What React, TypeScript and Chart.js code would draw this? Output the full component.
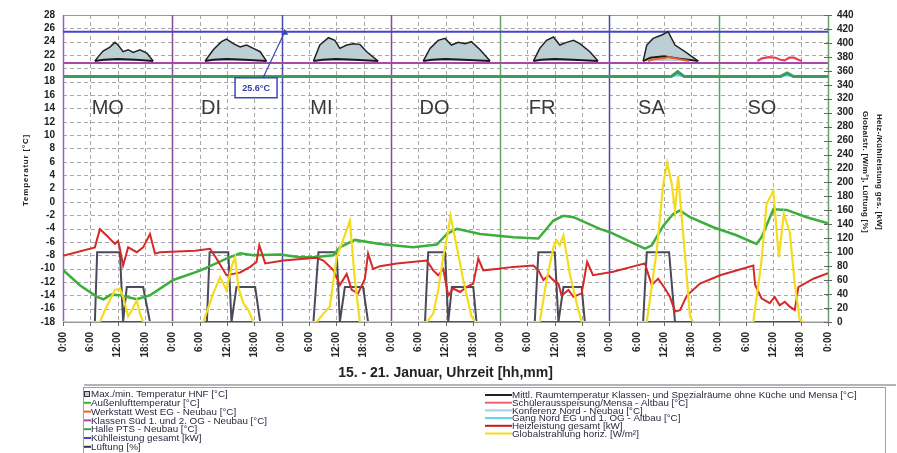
import React, { useEffect, useRef } from "react";
import { Chart, registerables } from "chart.js";

Chart.register(...registerables);

const FONT = "'Liberation Sans', Arial, sans-serif";

// ---------- labels ----------
const dayNames = ["MO", "DI", "MI", "DO", "FR", "SA", "SO"];
const hourLabels = ["0:00", "6:00", "12:00", "18:00"];
const xTitle = "15. - 21. Januar, Uhrzeit [hh,mm]";
const yLeftTitle = "Temperatur [°C]";
const yRightTitles = ["Heiz-/Kühlleistung ges. [kW]", "Globalstr. [W/m²], Lüftung [%]"];
const calloutText = "25.6°C";

const legendLeftLabels = [
  "Max./min. Temperatur HNF [°C]",
  "Außenlufttemperatur [°C]",
  "Werkstatt West EG - Neubau [°C]",
  "Klassen Süd 1. und 2. OG - Neubau [°C]",
  "Halle PTS - Neubau [°C]",
  "Kühlleistung gesamt [kW]",
  "Lüftung [%]",
];
const legendRightLabels = [
  "Mittl. Raumtemperatur Klassen- und Spezialräume ohne Küche und Mensa [°C]",
  "Schülerausspeisung/Mensa - Altbau [°C]",
  "Konferenz Nord - Neubau [°C]",
  "Gang Nord EG und 1. OG - Altbau [°C]",
  "Heizleistung gesamt [kW]",
  "Globalstrahlung horiz. [W/m²]",
];

// ---------- data (x = hours since Monday 0:00) ----------
const outsideTemp: [number, number][] = [
  [0, -10.2], [3.7, -12.5], [7.4, -14.2], [8.9, -14.6], [10.5, -13.9], [12.5, -14.0], [16.2, -14.6], [19.1, -14.0],
  [24.2, -11.7], [30.1, -10.3], [35.9, -8.5], [38.9, -7.7], [41.8, -8.0], [47.7, -7.9], [52, -8.3], [55, -8.3],
  [59.4, -8.0], [60.8, -6.8], [64.1, -5.7], [69.6, -6.3], [76.9, -6.8], [82.1, -6.4], [84.3, -4.8], [86.5, -4.05],
  [91.6, -4.8], [98.9, -5.3], [104.4, -5.5], [107.7, -2.8], [109.9, -2.1], [112.1, -2.3], [117.9, -4.05],
  [120.1, -4.55], [127.8, -7.0], [129.3, -6.5], [131.8, -3.6], [134, -1.8], [135.5, -1.3], [137.7, -2.3],
  [142.8, -3.8], [147.9, -5.0], [152.3, -6.3], [153.4, -5.3], [156, -1.1], [158.9, -1.2], [163.3, -2.3], [168, -3.2],
];

const heatPower: [number, number][] = [
  [0, 95], [7.0, 107], [8.1, 133], [9.6, 124], [11.4, 112], [12.1, 116], [12.5, 105], [13.2, 81], [13.8, 95],
  [14.3, 107], [16.2, 100], [17.6, 107], [19.1, 126], [20.2, 98], [21.3, 100], [29, 102], [32.3, 105], [33.7, 91],
  [35.9, 67], [37.4, 69], [38.9, 71], [41.1, 79], [42.5, 86], [43.1, 110], [44.4, 84], [48.4, 88], [55.7, 92],
  [57.2, 88], [59.4, 74], [60.8, 53], [62.3, 69], [63.4, 46], [64.8, 41], [66.3, 62], [67.0, 98], [68.1, 76],
  [69.6, 80], [73.3, 84], [79.9, 88], [81.3, 74], [82.4, 67], [83.5, 76], [84.6, 38], [85.7, 48], [87.2, 43],
  [88.6, 50], [90.1, 55], [91.2, 91], [92.3, 74], [95.2, 76], [98.9, 79], [103.3, 81], [104.4, 74], [105.5, 60],
  [106.6, 67], [107.7, 60], [108.8, 55], [109.5, 38], [111.0, 46], [112.1, 36], [113.9, 41], [115.1, 86],
  [116.4, 67], [120.8, 72], [127.8, 84], [128.5, 69], [129.3, 53], [130.7, 62], [132.2, 48], [133.3, 36],
  [134.4, 15], [135.5, 17], [137.0, 38], [139.9, 55], [144.3, 67], [151.6, 81], [152.0, 53], [153.4, 34],
  [155.2, 27], [156.3, 36], [157.4, 24], [158.5, 29], [159.6, 22], [160.7, 17], [161.5, 50], [164.8, 62], [168, 70],
];

const solarRadiation: [number, number][] = [
  [0, 0], [8.1, 0], [9.2, 17], [11.4, 46], [12.5, 48], [13.2, 36], [14.3, 8], [15.1, 17], [16.2, 31], [16.9, 12], [17.6, 0],
  [30.8, 0], [33, 41], [34.5, 64], [35.9, 46], [37.0, 79], [37.8, 93], [38.5, 50], [39.6, 27], [40.7, 17], [41.8, 0],
  [55.7, 0], [57.2, 12], [58.6, 22], [60.1, 93], [61.2, 112], [63, 145], [64.1, 60], [65.2, 0],
  [79.9, 0], [81.3, 12], [82.4, 46], [83.5, 93], [84.6, 131], [85.1, 152], [86.5, 107], [87.9, 60], [89.7, 8], [90.6, 0],
  [104.7, 0], [106.2, 60], [107.7, 107], [108.4, 117], [109.1, 110], [109.9, 124], [111.3, 69], [112.8, 27], [113.9, 0],
  [128.2, 0], [130.4, 103], [131.8, 197], [132.7, 228], [133.7, 197], [134.4, 159], [135.1, 209], [136.2, 126], [137.7, 8], [138.4, 0],
  [151.6, 0], [153.4, 88], [154.5, 169], [156, 188], [157.2, 93], [158.3, 155], [159.6, 129], [160.7, 55], [161.8, 3], [162.5, 0],
  [168, 0],
];

const ventilation: [number, number][] = [
  [0, 0], [7.0, 0], [7.5, 100], [12.5, 100], [13.2, 0], [14.0, 50], [17.6, 50], [19.1, 0],
  [31.6, 0], [32.2, 100], [36.3, 100], [37.0, 0], [38.1, 50], [42.2, 50], [43.3, 0],
  [55.0, 0], [56.1, 100], [60.1, 100], [60.8, 0], [61.9, 50], [65.9, 50], [67.0, 0],
  [79.5, 0], [80.2, 100], [83.9, 100], [84.6, 0], [85.4, 50], [90.1, 50], [90.8, 0],
  [103.6, 0], [104.4, 100], [108.0, 100], [108.8, 0], [109.9, 50], [113.9, 50], [114.6, 0],
  [127.4, 0], [128.2, 100], [133.1, 100], [134.4, 0], [168, 0],
];

const coolingPower: [number, number][] = [[0, 0], [168, 0]];

const maxTempMo: [number, number][] = [[7.0, 21.1], [7.8, 21.8], [8.8, 22.6], [10.3, 23.2], [11.4, 23.9], [12.1, 23.5], [13.2, 22.5], [14.3, 22.8], [15.4, 22.4], [16.9, 22.8], [18.4, 22.3], [19.8, 21.1]];
const maxTempDi: [number, number][] = [[31.2, 21.1], [33.0, 22.8], [34.8, 24.0], [35.9, 24.4], [37.4, 23.7], [38.9, 23.2], [40.3, 23.5], [41.8, 23.0], [43.3, 22.5], [44.7, 21.1]];
const maxTempMi: [number, number][] = [[55.0, 21.1], [56.4, 23.5], [58.3, 24.6], [59.7, 24.2], [60.8, 23.0], [62.3, 23.5], [63.7, 23.7], [65.2, 23.6], [66.7, 22.5], [69.2, 21.1]];
const maxTempDo: [number, number][] = [[79.1, 21.1], [80.6, 23.0], [82.4, 24.2], [83.9, 24.5], [85.3, 23.5], [86.8, 23.9], [88.3, 23.7], [89.7, 24.0], [91.6, 22.8], [93.8, 21.1]];
const maxTempFr: [number, number][] = [[103.3, 21.1], [104.7, 23.0], [106.2, 24.2], [107.7, 24.7], [109.1, 23.5], [110.6, 23.9], [112.1, 24.2], [113.5, 23.7], [115.7, 22.5], [117.5, 21.1]];
const maxTempSa: [number, number][] = [[127.4, 21.1], [128.2, 23.5], [129.6, 24.5], [131.5, 25.0], [132.9, 25.5], [134.4, 23.5], [136.6, 22.5], [139.5, 21.1]];

const meanRoomMo: [number, number][] = [[7.0, 21.1], [9, 21.3], [12, 21.4], [16, 21.3], [19.8, 21.1]];
const meanRoomDi: [number, number][] = [[31.2, 21.1], [33, 21.3], [36, 21.4], [40, 21.3], [44.7, 21.1]];
const meanRoomMi: [number, number][] = [[55, 21.1], [57, 21.3], [60, 21.4], [64, 21.3], [69.2, 21.1]];
const meanRoomDo: [number, number][] = [[79.1, 21.1], [81, 21.3], [84, 21.4], [88, 21.3], [93.8, 21.1]];
const meanRoomFr: [number, number][] = [[103.3, 21.1], [105, 21.3], [108, 21.4], [112, 21.3], [117.5, 21.1]];
const meanRoomSa: [number, number][] = [[127.4, 21.1], [129, 21.6], [132, 21.8], [135, 21.5], [139.5, 21.1]];

const workshopWest: [number, number][] = [[128.5, 21.1], [130, 21.4], [132, 21.5], [133, 21.7], [134.5, 21.5], [136, 21.3], [137.5, 21.1]];
const mensaAltbau: [number, number][] = [[152.5, 21.1], [153.5, 21.5], [155, 21.7], [156.5, 21.6], [157.5, 21.3], [158.5, 21.2], [159.5, 21.6], [160.5, 21.6], [161.5, 21.3], [162.3, 21.1]];
const classesSouth: [number, number][] = [[0, 20.8], [168, 20.8]];
const hallPTS: [number, number][] = [[0, 18.8], [133.6, 18.8], [135, 19.5], [136.4, 18.8], [157.6, 18.8], [159, 19.3], [160.4, 18.8], [168, 18.8]];
const corridorNorth: [number, number][] = [[0, 18.8], [133.6, 18.8], [135, 19.6], [136.4, 18.8], [157.6, 18.8], [159, 19.4], [160.4, 18.8], [168, 18.8]];
const upperLimit: [number, number][] = [[0, 25.5], [168, 25.5]];

// annotation anchors (hours, °C)
const calloutBoxAt: [number, number] = [42.4, 17.1];
const calloutPointAt: [number, number] = [48.7, 25.5];
const dayLabelHour = 6.3;
const dayLabelTemp = 14.0;

// ---------- styles ----------
const C = {
  red: "#d42a2a",
  green: "#3cae3c",
  yellow: "#f4dc1c",
  vent: "#4a4a58",
  grayFill: "#bccfd5",
  blue: "#4646c8",
  purple: "#a848a8",
  hall: "#3d9c5c",
  cyan: "#5fd2ee",
  orange: "#e8642c",
  pink: "#e8405a",
  black: "#1a1a1a",
};
const legendLeftColors = [C.grayFill, C.green, C.orange, "#9a4ab0", C.hall, C.blue, "#30305a"];
const legendRightColors = ["#222222", "#f06070", "#a8cce0", C.cyan, "#c81818", C.yellow];
const dayLineColors = ["#9a62b4", "#8a4a9a", "#4a4aa8", "#8a4a9a", "#6aa06a", "#4a4aa8", "#5aa05a", "#6aa06a"];

const pts = (a: [number, number][]) => a.map(([x, y]) => ({ x, y }));
const joinDays = (days: [number, number][][]) => {
  const out: { x: number; y: number | null }[] = [];
  days.forEach((d, i) => {
    if (i > 0) out.push({ x: d[0][0] - 0.01, y: null });
    d.forEach(([x, y]) => out.push({ x, y }));
  });
  return out;
};

const gridPlugin = {
  id: "customGrid",
  beforeDatasetsDraw(chart: any) {
    const { ctx, chartArea: a, scales } = chart;
    const xs = scales.x, ys = scales.y, y2 = scales.y2;
    ctx.save();
    ctx.lineWidth = 1;
    ctx.strokeStyle = "#a8a8a8";
    ctx.setLineDash([4, 3]);
    for (let t = -16; t < 28; t += 2) {
      const y = Math.round(ys.getPixelForValue(t)) + 0.5;
      ctx.beginPath(); ctx.moveTo(a.left, y); ctx.lineTo(a.right, y); ctx.stroke();
    }
    for (let h = 6; h < 168; h += 6) {
      if (h % 24 === 0) continue;
      const x = Math.round(xs.getPixelForValue(h)) + 0.5;
      ctx.beginPath(); ctx.moveTo(x, a.top); ctx.lineTo(x, a.bottom); ctx.stroke();
    }
    ctx.setLineDash([]);
    ctx.strokeStyle = "#9a9a9a";
    ctx.strokeRect(a.left + 0.5, a.top + 0.5, a.right - a.left, a.bottom - a.top);
    for (let d = 0; d <= 7; d++) {
      const x = Math.round(xs.getPixelForValue(d * 24)) + 0.5;
      ctx.strokeStyle = dayLineColors[d];
      ctx.lineWidth = 1.5;
      ctx.beginPath(); ctx.moveTo(x, a.top); ctx.lineTo(x, a.bottom); ctx.stroke();
    }
    // tick marks
    ctx.strokeStyle = "#666";
    ctx.lineWidth = 1;
    for (let h = 0; h <= 168; h += 6) {
      const x = Math.round(xs.getPixelForValue(h)) + 0.5;
      ctx.beginPath(); ctx.moveTo(x, a.bottom); ctx.lineTo(x, a.bottom + 4); ctx.stroke();
    }
    for (let v = 0; v <= 440; v += 20) {
      const y = Math.round(y2.getPixelForValue(v)) + 0.5;
      ctx.beginPath(); ctx.moveTo(a.right - 4, y); ctx.lineTo(a.right + 4, y); ctx.stroke();
    }
    ctx.restore();
  },
};

const overlayPlugin = {
  id: "overlay",
  afterDraw(chart: any) {
    const { ctx, scales } = chart;
    const xs = scales.x, ys = scales.y;
    ctx.save();
    // day names
    ctx.fillStyle = "#3a3a3a";
    ctx.font = `20px ${FONT}`;
    ctx.textAlign = "left";
    ctx.textBaseline = "middle";
    dayNames.forEach((n, i) => {
      ctx.fillText(n, xs.getPixelForValue(i * 24 + dayLabelHour), ys.getPixelForValue(dayLabelTemp));
    });
    // callout
    const bx = xs.getPixelForValue(calloutBoxAt[0]);
    const by = ys.getPixelForValue(calloutBoxAt[1]);
    const px = xs.getPixelForValue(calloutPointAt[0]);
    const py = ys.getPixelForValue(calloutPointAt[1]);
    ctx.strokeStyle = "#3848b8";
    ctx.lineWidth = 1.2;
    ctx.beginPath(); ctx.moveTo(bx + 7, by - 10); ctx.lineTo(px, py); ctx.stroke();
    ctx.fillStyle = "#3848b8";
    ctx.beginPath(); ctx.moveTo(px, py - 3); ctx.lineTo(px + 3.5, py + 3); ctx.lineTo(px - 3.5, py + 3); ctx.closePath(); ctx.fill();
    ctx.fillStyle = "#ffffff";
    ctx.fillRect(bx - 21, by - 10, 42, 20);
    ctx.lineWidth = 1.5;
    ctx.strokeRect(bx - 21, by - 10, 42, 20);
    ctx.fillStyle = "#3040a8";
    ctx.font = `bold 9px ${FONT}`;
    ctx.textAlign = "center";
    ctx.fillText(calloutText, bx, by + 0.5);

    // axis titles
    ctx.fillStyle = "#222";
    ctx.font = `bold 8px ${FONT}`;
    (ctx as any).letterSpacing = "0.8px";
    ctx.save();
    ctx.translate(26, 170);
    ctx.rotate(-Math.PI / 2);
    ctx.fillText(yLeftTitle, 0, 0);
    ctx.restore();
    (ctx as any).letterSpacing = "0.3px";
    [879, 865].forEach((x, i) => {
      ctx.save();
      ctx.translate(x, 172);
      ctx.rotate(Math.PI / 2);
      ctx.fillText(yRightTitles[i], 0, 0);
      ctx.restore();
    });
    (ctx as any).letterSpacing = "0px";

    // legend
    ctx.strokeStyle = "#a0a0a0";
    ctx.lineWidth = 1;
    ctx.fillStyle = "#b4b4b4";
    ctx.fillRect(84, 384, 812, 2);
    ctx.strokeRect(83.5, 387.5, 802, 70);
    ctx.font = `9.8px ${FONT}`;
    ctx.textAlign = "left";
    ctx.textBaseline = "middle";
    legendLeftLabels.forEach((lab, i) => {
      const y = 394 + i * 8.8;
      if (i === 0) {
        ctx.fillStyle = legendLeftColors[0];
        ctx.fillRect(84, y - 3, 6, 6);
        ctx.strokeStyle = "#333";
        ctx.strokeRect(84.5, y - 2.5, 5, 5);
      } else {
        ctx.strokeStyle = legendLeftColors[i];
        ctx.lineWidth = 2;
        ctx.beginPath(); ctx.moveTo(84, y); ctx.lineTo(91, y); ctx.stroke();
        ctx.lineWidth = 1;
      }
      ctx.fillStyle = "#2a2a40";
      ctx.fillText(lab, 91, y + 0.5);
    });
    legendRightLabels.forEach((lab, i) => {
      const y = 395 + i * 7.7;
      ctx.strokeStyle = legendRightColors[i];
      ctx.lineWidth = 2;
      ctx.beginPath(); ctx.moveTo(485, y); ctx.lineTo(512, y); ctx.stroke();
      ctx.fillStyle = "#2a2a40";
      ctx.fillText(lab, 512, y + 0.5);
    });
    ctx.restore();
  },
};

export default function App() {
  const ref = useRef<HTMLCanvasElement>(null);
  useEffect(() => {
    const canvas = ref.current!;
    const line = (o: any) => ({ pointRadius: 0, tension: 0, fill: false, borderWidth: 2, ...o });
    const chart = new Chart(canvas, {
      type: "line",
      data: {
        datasets: [
          line({ label: legendRightLabels[5], data: pts(solarRadiation), yAxisID: "y2", borderColor: C.yellow, borderWidth: 2.2, order: 1 }),
          line({ label: legendRightLabels[4], data: pts(heatPower), yAxisID: "y2", borderColor: C.red, order: 2 }),
          line({ label: legendLeftLabels[1], data: pts(outsideTemp), yAxisID: "y", borderColor: C.green, borderWidth: 2.5, order: 3 }),
          line({ label: legendLeftLabels[6], data: pts(ventilation), yAxisID: "y2", borderColor: C.vent, order: 4 }),
          line({ label: legendLeftLabels[5], data: pts(coolingPower), yAxisID: "y2", borderColor: C.blue, order: 5 }),
          line({ label: legendRightLabels[1], data: pts(mensaAltbau), yAxisID: "y", borderColor: C.pink, borderWidth: 2.2, order: 6 }),
          line({ label: legendLeftLabels[2], data: pts(workshopWest), yAxisID: "y", borderColor: C.orange, order: 7 }),
          line({ label: legendRightLabels[0], data: joinDays([meanRoomMo, meanRoomDi, meanRoomMi, meanRoomDo, meanRoomFr, meanRoomSa]), yAxisID: "y", borderColor: C.black, borderWidth: 2, order: 8 }),
          line({ label: legendLeftLabels[0], data: joinDays([maxTempMo, maxTempDi, maxTempMi, maxTempDo, maxTempFr, maxTempSa]), yAxisID: "y", borderColor: "#222", borderWidth: 1.5, backgroundColor: C.grayFill, fill: { value: 21.1 }, order: 9 }),
          line({ label: "Grenzwert", data: pts(upperLimit), yAxisID: "y", borderColor: C.blue, borderWidth: 2, order: 10 }),
          line({ label: legendLeftLabels[3], data: pts(classesSouth), yAxisID: "y", borderColor: C.purple, borderWidth: 2, order: 11 }),
          line({ label: legendLeftLabels[4], data: pts(hallPTS), yAxisID: "y", borderColor: C.hall, borderWidth: 3, order: 12 }),
          line({ label: legendRightLabels[3], data: pts(corridorNorth), yAxisID: "y", borderColor: C.cyan, borderWidth: 1, backgroundColor: C.cyan, fill: { value: 18.8 }, order: 13 }),
        ],
      },
      options: {
        animation: false,
        responsive: true,
        maintainAspectRatio: false,
        layout: { padding: { left: 0, right: 0, top: 14, bottom: 71 } },
        plugins: { legend: { display: false }, tooltip: { enabled: false } },
        scales: {
          x: {
            type: "linear",
            min: 0,
            max: 168,
            grid: { display: false, drawTicks: false },
            border: { display: false },
            ticks: {
              stepSize: 6,
              autoSkip: false,
              minRotation: 90,
              maxRotation: 90,
              padding: 10,
              color: "#222",
              font: { family: FONT, size: 10, weight: "bold" },
              callback: (v: any) => hourLabels[Math.round(Number(v) / 6) % 4],
            },
            title: {
              display: true,
              text: xTitle,
              color: "#222",
              font: { family: FONT, size: 14, weight: "bold" },
              padding: { top: 0, bottom: 0 },
            },
            afterFit: (s: any) => { s.height = 60; },
          },
          y: {
            position: "left",
            min: -18,
            max: 28,
            grid: { display: false, drawTicks: false },
            border: { display: false },
            ticks: { stepSize: 2, autoSkip: false, padding: 8, color: "#222", font: { family: FONT, size: 10, weight: "bold" } },
            afterFit: (s: any) => { s.width = 63; },
          },
          y2: {
            position: "right",
            min: 0,
            max: 440,
            grid: { display: false, drawTicks: false },
            border: { display: false },
            ticks: { stepSize: 20, autoSkip: false, padding: 9, color: "#222", font: { family: FONT, size: 10, weight: "bold" } },
            afterFit: (s: any) => { s.width = 69; },
          },
        },
      } as any,
      plugins: [gridPlugin, overlayPlugin],
    });
    return () => chart.destroy();
  }, []);
  return (
    <div style={{ position: "absolute", left: 0, top: 0, width: 897, height: 453, background: "#fff" }}>
      <canvas ref={ref} />
    </div>
  );
}
